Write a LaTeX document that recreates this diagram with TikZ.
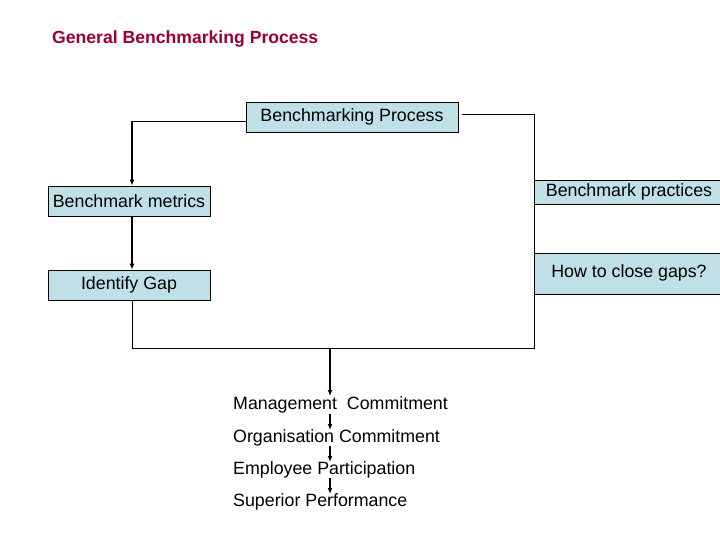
\documentclass[tikz,border=0pt]{standalone}
\usepackage{fontspec}
\setmainfont{Liberation Sans}
\usetikzlibrary{arrows.meta}
\definecolor{boxc}{HTML}{BFE0E6}
\definecolor{titc}{HTML}{990033}
\begin{document}
\begin{tikzpicture}[x=1pt,y=-1pt,
  fs/.style={font=\fontsize{17.8}{20}\selectfont},
  bx/.style={draw,fill=boxc,line width=0.8pt,inner sep=0pt,fs},
  tx/.style={anchor=west,inner sep=0pt,fs},
  ln/.style={line width=0.8pt},
  ar/.style={line width=1.4pt,-{Latex[length=6pt,width=5pt]}}]
\useasboundingbox (0,0) rectangle (720,540);
\node[anchor=west,inner sep=0pt,text=titc,font=\bfseries\fontsize{17.6}{20}\selectfont] (title) at (52,39) {General Benchmarking Process};
\node[bx,minimum width=212,minimum height=30] (bp) at (352,117) {Benchmarking Process};
\node[bx,minimum width=162,minimum height=30] (bm) at (129,201) {Benchmark metrics};
\node[bx,minimum width=162,minimum height=30] (ig) at (129,285) {Identify Gap};
\fill[boxc] (534,180) rectangle (720,204);
\fill[boxc] (534,253) rectangle (720,294);
\draw[ln] (534,180) -- (720,180) (534,204) -- (720,204);
\draw[ln] (534,253) -- (720,253) (534,294) -- (720,294);
\node[inner sep=0pt,fs] (bpr) at (629,192) {Benchmark practices};
\node[inner sep=0pt,fs] (htc) at (629,273) {How to close gaps?};
\coordinate (c1) at (132,121);
\draw[ln] (bp.west|-c1) -- (c1);
\draw[ar] (c1) -- (c1|-bm.north);
\draw[ar] (c1|-bm.south) -- (c1|-ig.north);
\coordinate (c2) at (462,114);
\draw[ln] (c1|-ig.south) -- (132,348) -- (534,348) -- (534,114) -- (c2);
\coordinate (c3) at (330,348);
\node[tx] (m1) at (233,405) {Management\ \ Commitment};
\node[tx] (m2) at (233,438) {Organisation Commitment};
\node[tx] (m3) at (233,470) {Employee Participation};
\node[tx] (m4) at (233,502) {Superior Performance};
\draw[ar] (c3) -- (330,396);
\draw[ar] (330,414) -- (330,430);
\draw[ar] (330,446) -- (330,462);
\draw[ar] (330,478) -- (330,494);
\end{tikzpicture}
\end{document}
